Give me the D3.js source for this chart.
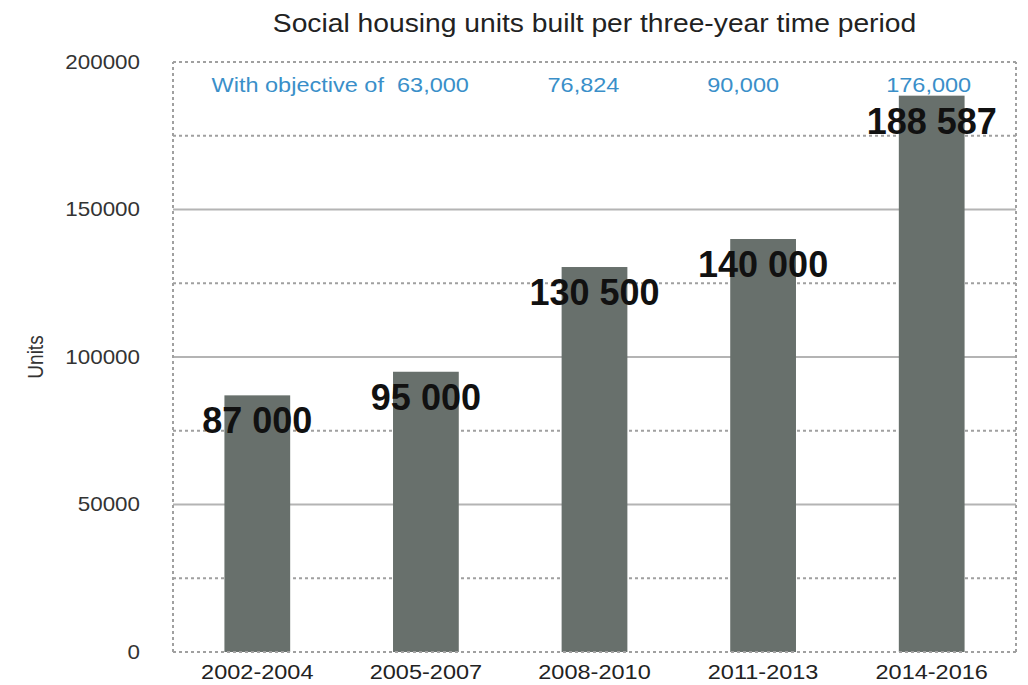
<!DOCTYPE html>
<html>
<head>
<meta charset="utf-8">
<script src="https://cdn.jsdelivr.net/npm/d3@7"></script>
<style>
  html, body { margin: 0; padding: 0; background: #ffffff; }
  svg { display: block; }
  text { font-family: "Liberation Sans", Arial, sans-serif; }
</style>
</head>
<body>
<svg id="chart" width="1028" height="685"></svg>
<script>
// ---- data ----
const categories = ["2002-2004", "2005-2007", "2008-2010", "2011-2013", "2014-2016"];
const unitsBuilt = [87000, 95000, 130500, 140000, 188587];
const valueLabels = ["87 000", "95 000", "130 500", "140 000", "188 587"];
const objectiveCats = ["2005-2007", "2008-2010", "2011-2013", "2014-2016"];
const objectiveLabels = ["With objective of  63,000", "76,824", "90,000", "176,000"];
const yTicks = [0, 50000, 100000, 150000, 200000];
const yDashedTicks = [25000, 75000, 125000, 175000];
const titleText = "Social housing units built per three-year time period";
const yAxisTitle = "Units";

// ---- layout ----
const W = 1028, H = 685;
const plot = { left: 173, right: 1016, top: 62, bottom: 652 };
const SX = 1.12; // horizontal stretch of regular text
const objectiveDx = [43, -11, -20, -3];
const objectiveAnchor = ["end", "middle", "middle", "middle"];

const svg = d3.select("#chart");

const x = d3.scaleBand()
  .domain(categories)
  .range([plot.left, plot.right])
  .paddingInner(0.61)
  .paddingOuter(0.305);

const y = d3.scaleLinear()
  .domain([0, 200000])
  .range([plot.bottom, plot.top]);

// solid gridlines
svg.append("g").selectAll("line")
  .data(yTicks.filter(d => d > 0 && d < 200000))
  .join("line")
  .attr("x1", plot.left).attr("x2", plot.right)
  .attr("y1", d => y(d)).attr("y2", d => y(d))
  .attr("stroke", "#b4b4b4").attr("stroke-width", 2);

// dashed gridlines
svg.append("g").selectAll("line")
  .data(yDashedTicks)
  .join("line")
  .attr("x1", plot.left).attr("x2", plot.right)
  .attr("y1", d => y(d)).attr("y2", d => y(d))
  .attr("stroke", "#a0a0a0").attr("stroke-width", 2)
  .attr("stroke-dasharray", "3,3");

// bars
svg.append("g").selectAll("rect")
  .data(categories)
  .join("rect")
  .attr("x", d => x(d))
  .attr("width", x.bandwidth())
  .attr("y", (d, i) => y(unitsBuilt[i]))
  .attr("height", (d, i) => y(0) - y(unitsBuilt[i]))
  .attr("fill", "#68706c");

// dotted border
const border = svg.append("g")
  .attr("fill", "none").attr("stroke", "#a0a0a0").attr("stroke-width", 2)
  .attr("stroke-dasharray", "3,3");
border.append("line").attr("x1", plot.left).attr("x2", plot.right).attr("y1", y(200000)).attr("y2", y(200000));
border.append("line").attr("x1", plot.left).attr("x2", plot.right).attr("y1", y(0)).attr("y2", y(0));
border.append("line").attr("x1", plot.left).attr("x2", plot.left).attr("y1", y(0)).attr("y2", y(200000));
border.append("line").attr("x1", plot.right).attr("x2", plot.right).attr("y1", y(0)).attr("y2", y(200000));

// y axis
const yAxis = svg.append("g")
  .attr("transform", `translate(${plot.left},0)`)
  .call(d3.axisLeft(y).tickValues(yTicks).tickSize(0).tickPadding(33 / SX).tickFormat(d3.format("d")));
yAxis.select(".domain").remove();
yAxis.selectAll("text")
  .attr("font-size", 20)
  .attr("font-family", "Liberation Sans, Arial, sans-serif")
  .attr("fill", "#333")
  .attr("transform", `scale(${SX},1)`);

// x axis
const xAxis = svg.append("g")
  .attr("transform", `translate(0,${plot.bottom})`)
  .call(d3.axisBottom(x).tickSize(0).tickPadding(12));
xAxis.select(".domain").remove();
xAxis.selectAll("text")
  .attr("font-size", 21)
  .attr("font-family", "Liberation Sans, Arial, sans-serif")
  .attr("fill", "#222")
  .attr("transform", `scale(${SX},1)`);

// title
svg.append("text")
  .attr("transform", `translate(${(plot.left + plot.right) / 2 + 0},32) scale(1.13,1)`)
  .attr("text-anchor", "middle")
  .attr("font-size", 25)
  .attr("fill", "#222")
  .text(titleText);

// y axis title
svg.append("text")
  .attr("transform", `translate(43,${(plot.top + plot.bottom) / 2}) rotate(-90) scale(1,${SX})`)
  .attr("text-anchor", "middle")
  .attr("font-size", 19)
  .attr("fill", "#333")
  .text(yAxisTitle);

// objective labels
svg.append("g").selectAll("text")
  .data(objectiveLabels)
  .join("text")
  .attr("transform", (d, i) => `translate(${x(objectiveCats[i]) + x.bandwidth() / 2 + objectiveDx[i]},92) scale(${SX},1)`)
  .attr("text-anchor", (d, i) => objectiveAnchor[i])
  .attr("font-size", 21)
  .attr("fill", "#3a8fc9")
  .style("white-space", "pre")
  .text(d => d);

// value labels
svg.append("g").selectAll("text")
  .data(categories)
  .join("text")
  .attr("x", d => x(d) + x.bandwidth() / 2)
  .attr("y", (d, i) => y(unitsBuilt[i]) + 38)
  .attr("text-anchor", "middle")
  .attr("font-size", 36)
  .attr("font-weight", "bold")
  .attr("fill", "#111")
  .text((d, i) => valueLabels[i]);
</script>
</body>
</html>
